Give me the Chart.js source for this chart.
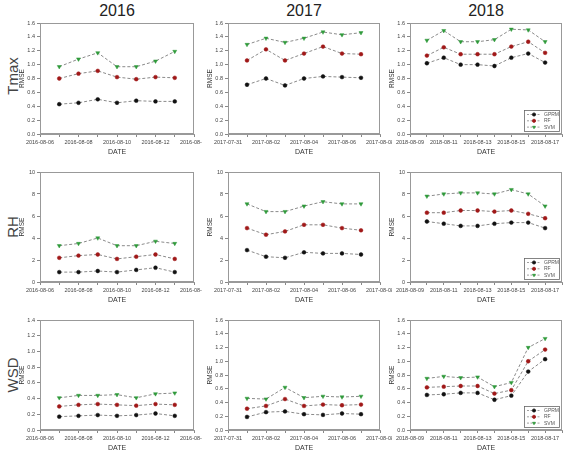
<!DOCTYPE html>
<html>
<head>
<meta charset="utf-8">
<script src="https://cdn.jsdelivr.net/npm/chart.js@4/dist/chart.umd.min.js"></script>
<style>
  body { margin: 0; background: #fff; }
  #page { position: relative; width: 575px; height: 458px; overflow: hidden; font-family: "Liberation Sans", Arial, sans-serif; }
  canvas.panel { position: absolute; }
  .year { position: absolute; top: 2px; font-size: 16px; color: #222; transform: translateX(-50%); }
  .rowlab { position: absolute; font-size: 15px; color: #444; white-space: nowrap; transform: translate(-50%, -50%) rotate(-90deg); }
</style>
</head>
<body>
<div id="page"></div>
<script>
// Categories
const years = ['2016', '2017', '2018'];
const variables = ['Tmax', 'RH', 'WSD'];
const models = ['GPRM', 'RF', 'SVM'];

// Dates of the points, one list per year
const dates2016 = ['2016-08-07', '2016-08-08', '2016-08-09', '2016-08-10', '2016-08-11', '2016-08-12', '2016-08-13'];
const dates2017 = ['2017-08-01', '2017-08-02', '2017-08-03', '2017-08-04', '2017-08-05', '2017-08-06', '2017-08-07'];
const dates2018 = ['2018-08-10', '2018-08-11', '2018-08-12', '2018-08-13', '2018-08-14', '2018-08-15', '2018-08-16', '2018-08-17'];

// Axis range of the date axis, per year
const axisStart = ['2016-08-06', '2017-07-31', '2018-08-09'];
const axisEnd = ['2016-08-14', '2017-08-08', '2018-08-18'];

// Tmax RMSE
const tmaxGprm2016 = [0.43, 0.45, 0.50, 0.45, 0.48, 0.47, 0.47];
const tmaxRf2016 = [0.80, 0.87, 0.91, 0.82, 0.79, 0.82, 0.81];
const tmaxSvm2016 = [0.97, 1.08, 1.17, 0.97, 0.97, 1.05, 1.19];
const tmaxGprm2017 = [0.71, 0.80, 0.70, 0.80, 0.83, 0.82, 0.81];
const tmaxRf2017 = [1.06, 1.22, 1.06, 1.16, 1.26, 1.16, 1.15];
const tmaxSvm2017 = [1.29, 1.38, 1.32, 1.38, 1.47, 1.43, 1.46];
const tmaxGprm2018 = [1.02, 1.10, 1.00, 1.00, 0.98, 1.10, 1.16, 1.03];
const tmaxRf2018 = [1.13, 1.25, 1.15, 1.15, 1.15, 1.26, 1.33, 1.17];
const tmaxSvm2018 = [1.35, 1.49, 1.33, 1.33, 1.36, 1.51, 1.50, 1.33];

// RH RMSE
const rhGprm2016 = [0.9, 0.9, 1.0, 0.9, 1.1, 1.3, 0.9];
const rhRf2016 = [2.2, 2.4, 2.5, 2.1, 2.3, 2.5, 2.1];
const rhSvm2016 = [3.3, 3.5, 4.0, 3.3, 3.3, 3.7, 3.5];
const rhGprm2017 = [2.9, 2.3, 2.2, 2.7, 2.6, 2.6, 2.5];
const rhRf2017 = [4.9, 4.3, 4.6, 5.2, 5.2, 4.9, 4.7];
const rhSvm2017 = [7.1, 6.4, 6.4, 6.9, 7.3, 7.1, 7.1];
const rhGprm2018 = [5.5, 5.3, 5.1, 5.1, 5.3, 5.4, 5.4, 4.9];
const rhRf2018 = [6.3, 6.3, 6.5, 6.5, 6.4, 6.5, 6.2, 5.8];
const rhSvm2018 = [7.8, 8.0, 8.1, 8.1, 8.0, 8.4, 8.0, 6.9];

// WSD RMSE
const wsdGprm2016 = [0.17, 0.18, 0.19, 0.18, 0.19, 0.21, 0.18];
const wsdRf2016 = [0.30, 0.32, 0.33, 0.32, 0.31, 0.33, 0.32];
const wsdSvm2016 = [0.41, 0.44, 0.44, 0.45, 0.41, 0.46, 0.47];
const wsdGprm2017 = [0.19, 0.26, 0.27, 0.23, 0.22, 0.24, 0.23];
const wsdRf2017 = [0.31, 0.35, 0.45, 0.35, 0.37, 0.36, 0.37];
const wsdSvm2017 = [0.46, 0.45, 0.62, 0.47, 0.49, 0.48, 0.49];
const wsdGprm2018 = [0.51, 0.52, 0.54, 0.54, 0.44, 0.50, 0.85, 1.03];
const wsdRf2018 = [0.62, 0.63, 0.64, 0.64, 0.53, 0.58, 1.00, 1.17];
const wsdSvm2018 = [0.75, 0.78, 0.76, 0.77, 0.63, 0.69, 1.20, 1.33];

// Y axis ranges per variable row
const yMaxTmax = [1.6, 1.6, 1.6];
const yMaxRh = [10, 10, 10];
const yMaxWsd = [1.4, 1.6, 1.6];
const yStep = [0.2, 2, 0.2];
const yDecimals = [1, 0, 1];

// Lookup tables built from the arrays above
const datesByYear = [dates2016, dates2017, dates2018];
const seriesTable = [
    [[tmaxGprm2016, tmaxRf2016, tmaxSvm2016], [tmaxGprm2017, tmaxRf2017, tmaxSvm2017], [tmaxGprm2018, tmaxRf2018, tmaxSvm2018]],
    [[rhGprm2016, rhRf2016, rhSvm2016], [rhGprm2017, rhRf2017, rhSvm2017], [rhGprm2018, rhRf2018, rhSvm2018]],
    [[wsdGprm2016, wsdRf2016, wsdSvm2016], [wsdGprm2017, wsdRf2017, wsdSvm2017], [wsdGprm2018, wsdRf2018, wsdSvm2018]]
];
const yMaxTable = [yMaxTmax, yMaxRh, yMaxWsd];

// Styles
const modelColors = ['#111111', '#a01818', '#2f9a3a'];
const modelPointStyles = ['circle', 'circle', 'triangle'];
const modelRotation = [0, 0, 180];

// Plot area boxes (pixels in the page)
const colLeft = [40, 228, 410];
const colRight = [194, 380, 562];
const rowTop = [23, 172, 320];
const rowBottom = [134, 282, 430];
const rowCenter = [76, 227, 375];

const DAY = 86400000;
const dayNum = s => Math.round(Date.parse(s) / DAY);
const dayLabel = n => new Date(n * DAY).toISOString().slice(0, 10);

// Box around the plot area
const frameBox = {
    id: 'frameBox',
    beforeDatasetsDraw(chart) {
        const { ctx, chartArea: a } = chart;
        ctx.save();
        ctx.strokeStyle = '#999';
        ctx.lineWidth = 1;
        ctx.strokeRect(Math.round(a.left) + 0.5, Math.round(a.top) + 0.5,
            Math.round(a.right - a.left) - 1, Math.round(a.bottom - a.top) - 1);
        ctx.restore();
    }
};

// Small legend inside the bottom right corner
const insideLegend = {
    id: 'insideLegend',
    afterDatasetsDraw(chart, args, opts) {
        if (!opts.show) return;
        const { ctx, chartArea: a } = chart;
        const w = 35, h = 21;
        const x = Math.round(a.right) - w - 3, y = Math.round(a.bottom) - h - 3;
        ctx.save();
        ctx.fillStyle = '#fff';
        ctx.fillRect(x, y, w, h);
        ctx.strokeStyle = '#666';
        ctx.lineWidth = 0.8;
        ctx.strokeRect(x + 0.5, y + 0.5, w, h);
        chart.data.datasets.forEach((ds, i) => {
            const cy = y + 4.5 + i * 6.3;
            ctx.setLineDash([2, 1.5]);
            ctx.strokeStyle = '#888';
            ctx.lineWidth = 0.8;
            ctx.beginPath();
            ctx.moveTo(x + 3, cy);
            ctx.lineTo(x + 17, cy);
            ctx.stroke();
            ctx.setLineDash([]);
            ctx.fillStyle = ds.pointBackgroundColor;
            ctx.strokeStyle = ds.pointBorderColor;
            Chart.helpers.drawPoint(ctx, {
                pointStyle: ds.pointStyle, rotation: ds.pointRotation, radius: 1.6, borderWidth: 0.8
            }, x + 10, cy);
            ctx.fillStyle = '#555';
            ctx.font = '5px "Liberation Sans", Arial, sans-serif';
            ctx.textBaseline = 'middle';
            ctx.fillText(ds.label, x + 20, cy + 0.3);
        });
        ctx.restore();
    }
};

const page = document.getElementById('page');

// Column titles and row labels
years.forEach((yr, c) => {
    const el = document.createElement('div');
    el.className = 'year';
    el.style.left = ((colLeft[c] + colRight[c]) / 2) + 'px';
    el.textContent = yr;
    page.appendChild(el);
});
variables.forEach((v, r) => {
    const el = document.createElement('div');
    el.className = 'rowlab';
    el.style.left = '12px';
    el.style.top = rowCenter[r] + 'px';
    el.textContent = v;
    page.appendChild(el);
});

// Build one panel
function makePanel(row, col) {
    const L = colLeft[col], R = colRight[col], T = rowTop[row], B = rowBottom[row];
    const yAxisW = 22, padTop = 6, padRight = col === 0 ? 8 : 12, xAxisH = 24;

    const canvas = document.createElement('canvas');
    canvas.className = 'panel';
    const cw = R - L + yAxisW + padRight;
    const ch = B - T + padTop + xAxisH;
    canvas.width = cw;
    canvas.height = ch;
    canvas.style.width = cw + 'px';
    canvas.style.height = ch + 'px';
    canvas.style.left = (L - yAxisW) + 'px';
    canvas.style.top = (T - padTop) + 'px';
    page.appendChild(canvas);

    const dates = datesByYear[col];
    const xMin = dayNum(axisStart[col]);
    const xMax = dayNum(axisEnd[col]);

    const datasets = models.map((m, i) => ({
        label: m,
        data: seriesTable[row][col][i].map((v, k) => ({ x: dayNum(dates[k]), y: v })),
        borderColor: '#8a8a8a',
        borderWidth: 1,
        borderDash: [3, 2],
        pointStyle: modelPointStyles[i],
        pointRotation: modelRotation[i],
        pointRadius: i === 2 ? 2.3 : 1.9,
        pointBackgroundColor: modelColors[i],
        pointBorderColor: modelColors[i],
        pointBorderWidth: 0.5,
        tension: 0
    }));

    const tickFont = { family: '"Liberation Sans", Arial, sans-serif', size: 5.5 };

    new Chart(canvas.getContext('2d'), {
        type: 'line',
        data: { datasets },
        options: {
            responsive: false,
            animation: false,
            events: [],
            layout: { padding: { top: padTop, right: padRight, left: 0, bottom: 0 } },
            plugins: {
                legend: { display: false },
                tooltip: { enabled: false },
                insideLegend: { show: col === 2 }
            },
            scales: {
                x: {
                    type: 'linear',
                    min: xMin,
                    max: xMax,
                    grid: { drawOnChartArea: false, drawTicks: true, tickLength: 3, color: '#888' },
                    border: { display: true, color: '#999' },
                    ticks: {
                        stepSize: 1,
                        autoSkip: false,
                        maxRotation: 0,
                        minRotation: 0,
                        padding: 2,
                        color: '#444',
                        font: tickFont,
                        callback: v => ((v - xMin) % 2 === 0 ? dayLabel(v) : '')
                    },
                    title: {
                        display: true,
                        text: 'DATE',
                        color: '#333',
                        font: { family: '"Liberation Sans", Arial, sans-serif', size: 7 },
                        padding: { top: 0, bottom: 2 }
                    },
                    afterFit: s => {
                        s.height = xAxisH;
                        s.paddingLeft = 0;
                        s.paddingRight = 0;
                    }
                },
                y: {
                    min: 0,
                    max: yMaxTable[row][col],
                    grid: { drawOnChartArea: false, drawTicks: true, tickLength: 3, color: '#888' },
                    border: { display: true, color: '#999' },
                    ticks: {
                        stepSize: yStep[row],
                        padding: 2,
                        color: '#444',
                        font: tickFont,
                        callback: v => v.toFixed(yDecimals[row])
                    },
                    title: {
                        display: true,
                        text: 'RMSE',
                        color: '#333',
                        font: { family: '"Liberation Sans", Arial, sans-serif', size: 6.5 },
                        padding: { top: 0, bottom: 0 }
                    },
                    afterFit: s => {
                        s.width = yAxisW;
                        s.paddingTop = 0;
                        s.paddingBottom = 0;
                    }
                }
            }
        },
        plugins: [frameBox, insideLegend]
    });
}

for (let r = 0; r < 3; r++) {
    for (let c = 0; c < 3; c++) {
        makePanel(r, c);
    }
}
</script>
</body>
</html>
